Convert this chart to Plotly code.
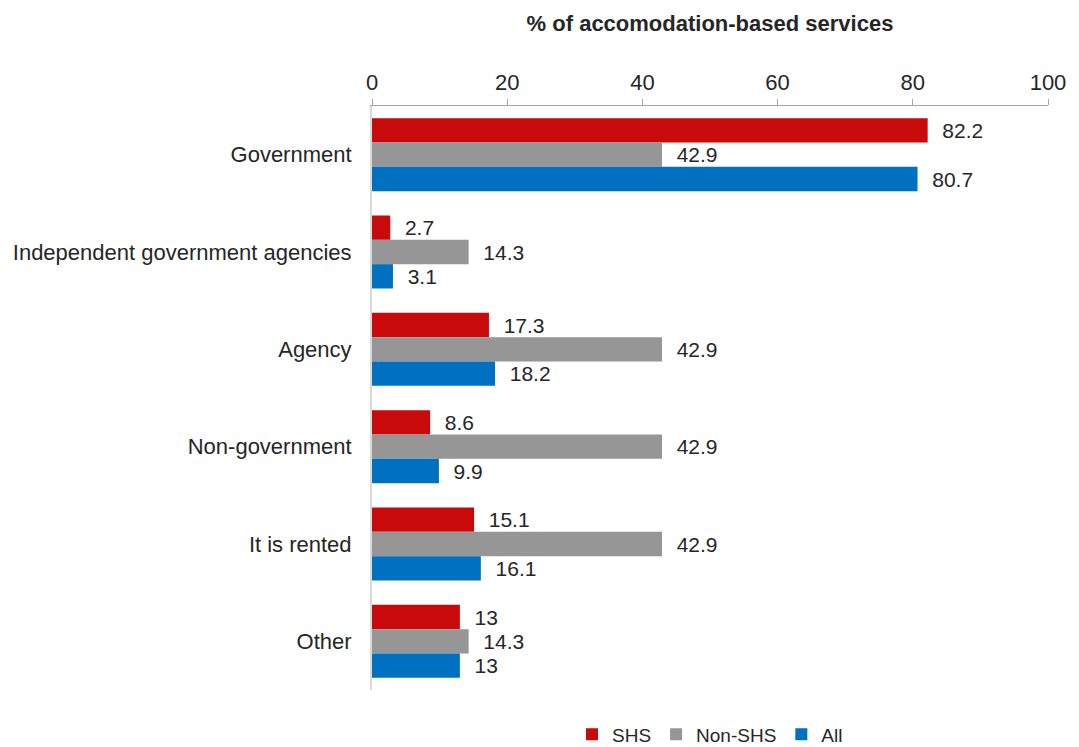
import plotly.graph_objects as go

categories = ["Government", "Independent government agencies", "Agency",
              "Non-government", "It is rented", "Other"]
shs = [82.2, 2.7, 17.3, 8.6, 15.1, 13]
non_shs = [42.9, 14.3, 42.9, 42.9, 42.9, 14.3]
all_vals = [80.7, 3.1, 18.2, 9.9, 16.1, 13]
x_ticks = [0, 20, 40, 60, 80, 100]

series = [("SHS", shs, "#C80A0A"), ("Non-SHS", non_shs, "#969696"), ("All", all_vals, "#0070C0")]

FONT = "Liberation Sans, Arial"
fig = go.Figure()
for name, vals, color in series:
    fig.add_trace(go.Bar(
        y=categories, x=vals, name=name, orientation="h",
        marker=dict(color=color, line=dict(width=0)),
        text=["\u00a0\u00a0" + f"{v:g}" for v in vals], textposition="outside",
        textfont=dict(size=21, color="#262626", family=FONT),
        cliponaxis=False,
    ))

fig.update_layout(
    width=1079, height=747,
    margin=dict(l=372, r=31, t=106, b=57, autoexpand=False),
    paper_bgcolor="white", plot_bgcolor="white",
    barmode="group", bargap=0.25, bargroupgap=0,
    font=dict(family=FONT, size=21, color="#262626"),
    xaxis=dict(
        side="top", range=[0, 100], tickvals=x_ticks, ticktext=[str(t) for t in x_ticks],
        showgrid=False, zeroline=False, showline=True, linecolor="#A6A6A6", linewidth=1,
        ticks="outside", ticklen=6, tickcolor="#A6A6A6",
        tickfont=dict(size=22, color="#262626"),
        title=dict(text="<b>% of accomodation-based services</b>",
                   font=dict(size=22, color="#262626"), standoff=32),
    ),
    yaxis=dict(
        autorange="reversed", showgrid=False, zeroline=False,
        showline=True, linecolor="#D9D9D9", linewidth=2, ticks="",
        tickfont=dict(size=22, color="#262626"), ticklabelstandoff=14,
    ),
    legend=dict(orientation="h", x=0.5, xanchor="center", y=-0.076, yanchor="middle",
                font=dict(size=19, color="#262626"), itemwidth=30, traceorder="normal"),
    showlegend=True,
)

fig.write_html("out.html")
